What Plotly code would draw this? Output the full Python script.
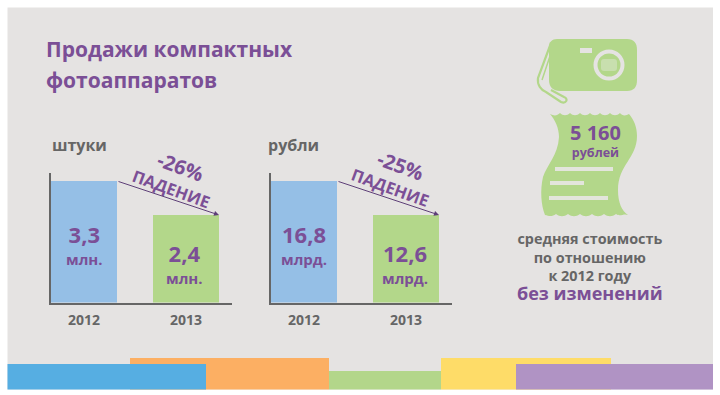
import re
import plotly.graph_objects as go

W, H = 720, 395
years = ["2012", "2013"]
units_values = [3.3, 2.4]
rubles_values = [16.8, 12.6]
units_labels = ["3,3", "2,4"]
units_unit = "млн."
rubles_labels = ["16,8", "12,6"]
rubles_unit = "млрд."
bar_colors = ["#95bfe6", "#b3d78a"]
PURPLE = "#7b4f96"
GREY = "#666666"
BG = "#e5e3e2"
GREEN = "#b3d78a"
FONT = "Open Sans"


def fx(x):
    return x / W


def fy(y):
    return 1 - y / H


def path(d):
    """Convert an SVG path written in page pixels to paper coordinates."""
    toks = re.findall(r"[MLCQZ]|-?[\d.]+", d)
    out, isx = [], True
    for t in toks:
        if t.isalpha():
            out.append(t)
            isx = True
        else:
            v = float(t)
            out.append(f"{fx(v):.5f}" if isx else f"{fy(v):.5f}")
            isx = not isx
    return " ".join(out)


shapes = []


def rect(x0, y0, x1, y1, color):
    shapes.append(dict(type="rect", xref="paper", yref="paper", x0=fx(x0), x1=fx(x1),
                       y0=fy(y1), y1=fy(y0), fillcolor=color, line_width=0, layer="below"))


def circle(cx, cy, r, color):
    shapes.append(dict(type="circle", xref="paper", yref="paper", x0=fx(cx - r), x1=fx(cx + r),
                       y0=fy(cy + r), y1=fy(cy - r), fillcolor=color, line_width=0, layer="below"))


def pathshape(d, fill=None, line=None, width=0):
    s = dict(type="path", xref="paper", yref="paper", path=path(d), layer="below")
    if fill:
        s["fillcolor"] = fill
    if line:
        s["line"] = dict(color=line, width=width)
    else:
        s["line_width"] = 0
    shapes.append(s)


rect(7.5, 7.5, 713, 389.5, BG)
# footer stripes
rect(130, 358, 329, 389.5, "#fcaf63")
rect(7.5, 364, 206, 389.5, "#56aee2")
rect(329, 371, 441, 389.5, "#b3d68a")
rect(441, 358, 611, 389.5, "#fedc68")
rect(516, 364, 713, 389.5, "#b093c4")

# camera
pathshape("M551 43 L538 78 C537 85 541 90 546 92 L561 102 C566 104 569 99 564 97 L551 90",
          line=GREEN, width=2.2)
pathshape("M553 47 L542 80", line=GREEN, width=1.5)
pathshape("M557 39 L627 39 C634 39 637 43 637 50 L637 80 C637 87 634 91 627 91 "
          "L560 91 C553 91 549 87 549 80 L549 47 C549 42 552 39 557 39 Z", fill=GREEN)
rect(580, 48, 592, 53, BG)
circle(609, 65, 15.5, BG)
circle(609, 65, 11.5, GREEN)
pathshape("M604 59 L614 59 C616 59 617 60 617 62 L617 68 C617 70 616 71 614 71 "
          "L604 71 C602 71 601 70 601 68 L601 62 C601 60 602 59 604 59 Z", fill="#c8dfae")

# receipt
pathshape("M550 114 C554 116 557 116 560 113 C563 116 567 116 570 113 C573 116 577 116 580 113 "
          "C583 116 587 116 590 113 C593 116 597 116 600 113 C603 116 607 116 610 113 "
          "C613 116 617 116 620 113 C622 116 626 116 629 114 "
          "C634 120 637 127 637 136 C637 158 618 165 618 190 C618 203 622 211 628 215 "
          "C624 213 620 217 616 214 C612 217 608 217 604 214 C600 217 596 217 592 214 "
          "C588 217 584 217 580 214 C576 217 572 217 568 214 C564 217 560 217 556 214 "
          "C552 217 549 216 545 215 C541 205 540 190 543 177 C547 165 558 155 559 137 "
          "C559 128 555 120 550 114 Z", fill=GREEN)
for x0, x1, y in [(555, 613, 169), (550, 584, 183), (549, 608, 198)]:
    pathshape(f"M{x0} {y} L{x1} {y}", line="#e3e5dc", width=4)

# two charts at fixed pixel positions
PX_UNIT = 102.0   # category spacing
fig = go.Figure()
charts = [
    (units_values, 50.5, 84.0, "x", "y", "xaxis", "yaxis"),
    (rubles_values, 270.5, 304.0, "x2", "y2", "xaxis2", "yaxis2"),
]
TOP, BASE = 173.0, 302.5
TALL, SHORT = 121.5, 87.5   # drawn bar heights in the reference
layout_axes = {}
for vals, left, c0, xa, ya, xk, yk in charts:
    fig.add_trace(go.Bar(x=years, y=vals, xaxis=xa, yaxis=ya, width=66 / PX_UNIT,
                         marker=dict(color=bar_colors, line_width=0), showlegend=False,
                         hoverinfo="skip"))
    right = left + 181
    scale = (TALL - SHORT) / (vals[0] - vals[1])
    lo = vals[0] - TALL / scale
    hi = lo + (BASE - TOP) / scale
    layout_axes[xk] = dict(domain=[fx(left), fx(right)], type="category", categoryorder="array",
                           categoryarray=years,
                           range=[(left - c0) / PX_UNIT, (right - c0) / PX_UNIT],
                           showgrid=False, zeroline=False, showline=True, linecolor=GREY,
                           linewidth=1.5, ticks="", anchor=ya, ticklabelstandoff=4,
                           tickfont=dict(family=FONT, size=14, color=GREY, weight=700))
    layout_axes[yk] = dict(domain=[fy(BASE), fy(TOP)], range=[lo, hi],
                           showgrid=False, zeroline=False, showline=True, linecolor=GREY,
                           linewidth=1.5, ticks="", showticklabels=False, anchor=xa)

ann = []


def text(x, y, s, size, color=PURPLE, angle=0, anchor="center"):
    ann.append(dict(x=fx(x), y=fy(y), xref="paper", yref="paper", text=s, showarrow=False,
                    textangle=angle, xanchor=anchor, yanchor="middle",
                    font=dict(family=FONT, size=size, color=color, weight=700)))


def text2(x, y, s1, size1, s2, size2, gap=22, color=PURPLE, angle=0):
    """Two-line label; y is the middle of the pair, gap the line spacing in px."""
    s = (f"<span style='font-size:{size1}px'>{s1}</span><br>"
         f"<span style='font-size:{size2}px'>{s2}</span>")
    text(x, y, s, gap / 1.3, color, angle)


text(44, 49, "Продажи компактных", 21, anchor="left")
text(44, 80, "фотоаппаратов", 21, anchor="left")
text(50, 145, "штуки", 16, GREY, anchor="left")
text(266, 145, "рубли", 16, GREY, anchor="left")

text2(84, 244, units_labels[0], 22, units_unit, 15)
text2(185, 263, units_labels[1], 22, units_unit, 15, gap=22)
text2(304, 244, rubles_labels[0], 22, rubles_unit, 15)
text2(405, 263, rubles_labels[1], 22, rubles_unit, 15, gap=22)

text(180, 166, "-26%", 20, angle=20)
text(171, 188, "ПАДЕНИЕ", 16.5, angle=20)
text(400, 165, "-25%", 20, angle=20)
text(391, 187, "ПАДЕНИЕ", 16.5, angle=20)

for x0, y0, x1, y1 in [(117, 181, 219, 215), (337, 181, 439, 215)]:
    ann.append(dict(x=fx(x1), y=fy(y1), ax=x0 - x1, ay=y0 - y1, xref="paper", yref="paper",
                    axref="pixel", ayref="pixel", text="", showarrow=True, arrowhead=2,
                    arrowsize=1, arrowwidth=1, arrowcolor="#5e3f78"))

text2(595, 140, "5 160", 20, "рублей", 12.5, gap=17)
text(590, 267,
     "средняя стоимость<br>по отношению<br>к 2012 году<br>"
     f"<span style='font-size:18px;color:{PURPLE}'>без изменений</span>", 14.4, GREY)

fig.update_layout(width=W, height=H, margin=dict(l=0, r=0, t=0, b=0), paper_bgcolor="white",
                  plot_bgcolor="rgba(0,0,0,0)", shapes=shapes, annotations=ann, showlegend=False,
                  **layout_axes)
fig.write_html("out.html", config=dict(displayModeBar=False),
               post_script="document.body.style.margin='0';document.body.style.overflow='hidden';")
